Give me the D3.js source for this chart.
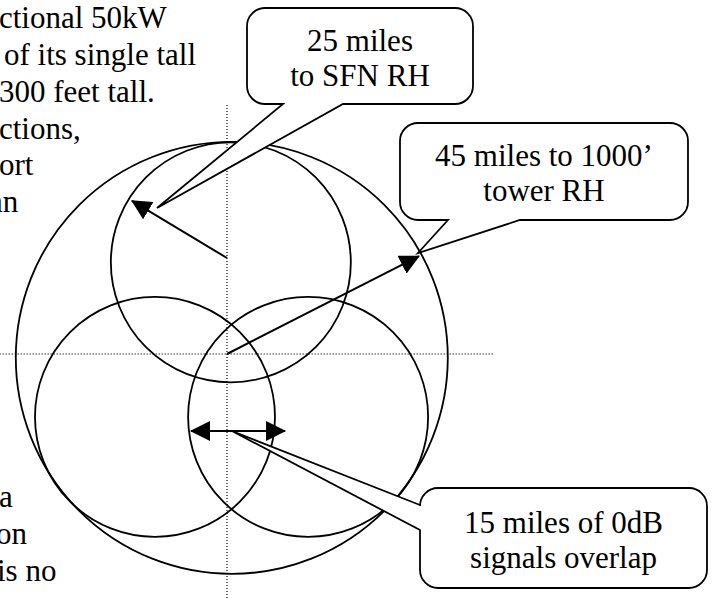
<!DOCTYPE html>
<html>
<head>
<meta charset="utf-8">
<script src="https://cdn.jsdelivr.net/npm/d3@7"></script>
<style>
  body { margin: 0; background: #fff; }
  svg { display: block; }
</style>
</head>
<body>
<div id="chart"></div>
<script>
// everything is in miles, origin at the dotted cross (the 1000' tower)
var width = 714, height = 599;
var serif = "'Liberation Serif', 'Times New Roman', Tinos, 'DejaVu Serif', serif";

// coverage circles
var circleNames = ["1000' tower", "SFN north", "SFN west", "SFN east"];
var circleCx = [1.0, 0.8, -15.0, 16.9];
var circleCy = [-0.8, 19.1, -13.1, -13.1];
var circleR  = [45, 25, 25, 25];

// radius arrows [x1, y1, x2, y2]
var radiusArrows = [
  [0, 20.0, -19.8, 31.9],
  [0, 0, 40.0, 20.4]
];
// 15 mile overlap double arrow
var overlapY = -16.04;
var overlapX = [-7.5, 12.1];

// dotted axes
var axisV = {x: 0, y: [51.9, -52]};
var axisH = {y: 0, x: [-48, 55.4]};

// callouts
var calloutText = [["25 miles", "to SFN RH"], ["45 miles to 1000\u2019", "tower RH"], ["15 miles of 0dB", "signals overlap"]];
var calloutBox  = [[4.17, 72.08, 51.25, 52.08], [36.04, 48.13, 96.04, 27.92], [40.21, -27.92, 100.0, -48.75]];
var calloutSide = ["bottom", "bottom", "left"];
var calloutBase = [[11.67, 24.17], [46.04, 61.04], [-36.67, -31.46]];
var calloutTip  = [[-14.58, 30.42], [39.79, 21.04], [1.04, -16.04]];

// bits of the surrounding document paragraph that show at the left edge
var paraLines  = ["ctional 50kW", "of its single tall", "300 feet tall.", "ctions,", "ort", "an", "a", "on", "is no"];
var paraLineNo = [0, 1, 2, 3, 4, 5, 13, 14, 15];
var paraIndent = [-1, 4, -1, -1, -1, -11, -1, -4, -3];

var x = d3.scaleLinear().domain([-47.29, 101.46]).range([0, width]);
var y = d3.scaleLinear().domain([73.75, -51.04]).range([0, height]);
var rpx = function(r){ return x(r) - x(0); };

var svg = d3.select("#chart")
  .append("svg")
  .attr("width", width)
  .attr("height", height);

var defs = svg.append("defs");
defs.append("marker")
  .attr("id", "head")
  .attr("viewBox", "0 0 20 20")
  .attr("refX", 19)
  .attr("refY", 10)
  .attr("markerWidth", 20)
  .attr("markerHeight", 20)
  .attr("markerUnits", "userSpaceOnUse")
  .attr("orient", "auto-start-reverse")
  .append("path")
  .attr("d", "M0,0 L20,10 L0,20 Z")
  .attr("fill", "#000");

// paragraph text
svg.selectAll(".para")
  .data(paraLines)
  .enter()
  .append("text")
    .attr("class", "para")
    .attr("x", function(d, i){ return paraIndent[i]; })
    .attr("y", function(d, i){ return 28 + 36.85 * paraLineNo[i]; })
    .attr("font-family", serif)
    .attr("font-size", 31)
    .attr("fill", "#000")
    .text(function(d){ return d; });

// dotted axes
svg.append("line")
  .attr("x1", x(axisV.x)).attr("x2", x(axisV.x))
  .attr("y1", y(axisV.y[0])).attr("y2", y(axisV.y[1]))
  .attr("stroke", "#000").attr("stroke-width", 1.2)
  .attr("stroke-dasharray", "1.2,1.8");
svg.append("line")
  .attr("x1", x(axisH.x[0])).attr("x2", x(axisH.x[1]))
  .attr("y1", y(axisH.y)).attr("y2", y(axisH.y))
  .attr("stroke", "#000").attr("stroke-width", 1.2)
  .attr("stroke-dasharray", "1.2,1.8");

// circles
svg.selectAll(".cov")
  .data(circleNames)
  .enter()
  .append("circle")
    .attr("class", "cov")
    .attr("cx", function(d, i){ return x(circleCx[i]); })
    .attr("cy", function(d, i){ return y(circleCy[i]); })
    .attr("r", function(d, i){ return rpx(circleR[i]); })
    .attr("fill", "none")
    .attr("stroke", "#000")
    .attr("stroke-width", 1.8);

// arrows
svg.selectAll(".radius")
  .data(radiusArrows)
  .enter()
  .append("line")
    .attr("class", "radius")
    .attr("x1", function(d){ return x(d[0]); })
    .attr("y1", function(d){ return y(d[1]); })
    .attr("x2", function(d){ return x(d[2]); })
    .attr("y2", function(d){ return y(d[3]); })
    .attr("stroke", "#000")
    .attr("stroke-width", 2)
    .attr("marker-end", "url(#head)");

svg.append("line")
  .attr("x1", x(overlapX[0])).attr("x2", x(overlapX[1]))
  .attr("y1", y(overlapY)).attr("y2", y(overlapY))
  .attr("stroke", "#000")
  .attr("stroke-width", 2)
  .attr("marker-start", "url(#head)")
  .attr("marker-end", "url(#head)");

// callout outline: rounded box with a wedge pulled out to the tip
function calloutPath(i){
  var b = calloutBox[i], r = 18;
  var x0 = x(b[0]), y0 = y(b[1]), x1 = x(b[2]), y1 = y(b[3]);
  var tx = x(calloutTip[i][0]), ty = y(calloutTip[i][1]);
  var p = d3.path();
  p.moveTo(x0 + r, y0);
  p.lineTo(x1 - r, y0);
  p.arcTo(x1, y0, x1, y0 + r, r);
  p.lineTo(x1, y1 - r);
  p.arcTo(x1, y1, x1 - r, y1, r);
  if (calloutSide[i] == "bottom") {
    p.lineTo(x(calloutBase[i][1]), y1);
    p.lineTo(tx, ty);
    p.lineTo(x(calloutBase[i][0]), y1);
  }
  p.lineTo(x0 + r, y1);
  p.arcTo(x0, y1, x0, y1 - r, r);
  if (calloutSide[i] == "left") {
    p.lineTo(x0, y(calloutBase[i][0]));
    p.lineTo(tx, ty);
    p.lineTo(x0, y(calloutBase[i][1]));
  }
  p.lineTo(x0, y0 + r);
  p.arcTo(x0, y0, x0 + r, y0, r);
  p.closePath();
  return p.toString();
}

var callouts = svg.selectAll(".callout")
  .data(calloutText)
  .enter()
  .append("g")
    .attr("class", "callout");

callouts.append("path")
  .attr("d", function(d, i){ return calloutPath(i); })
  .attr("fill", "#fff")
  .attr("stroke", "#000")
  .attr("stroke-width", 1.8)
  .attr("stroke-linejoin", "miter");

callouts.each(function(d, i){
  var b = calloutBox[i];
  var cx = (x(b[0]) + x(b[2])) / 2;
  var my = (y(b[1]) + y(b[3])) / 2;
  d3.select(this).selectAll("text")
    .data(d)
    .enter()
    .append("text")
      .attr("x", cx)
      .attr("y", function(t, j){ return my - 5 + j * 35; })
      .attr("text-anchor", "middle")
      .attr("font-family", serif)
      .attr("font-size", 31)
      .attr("fill", "#000")
      .text(function(t){ return t; });
});
</script>
</body>
</html>
